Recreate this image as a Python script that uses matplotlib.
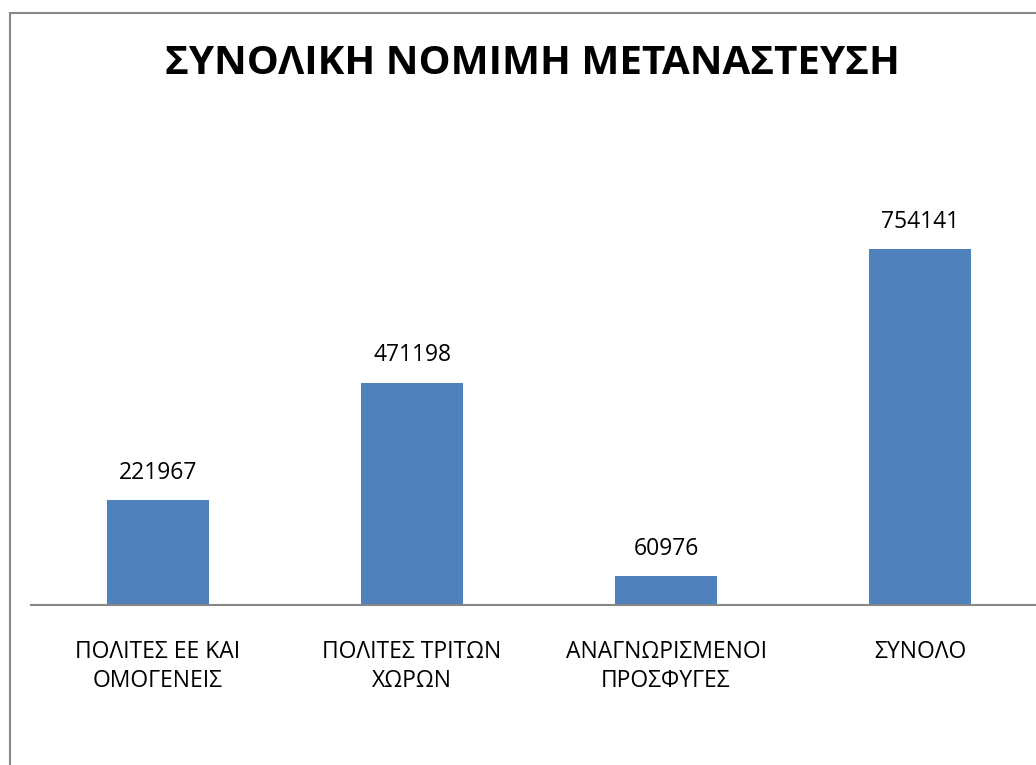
import matplotlib
matplotlib.use("Agg")
import matplotlib.pyplot as plt
from matplotlib.patches import Rectangle

categories = ["ΠΟΛΙΤΕΣ ΕΕ ΚΑΙ\nΟΜΟΓΕΝΕΙΣ", "ΠΟΛΙΤΕΣ ΤΡΙΤΩΝ\nΧΩΡΩΝ", "ΑΝΑΓΝΩΡΙΣΜΕΝΟΙ\nΠΡΟΣΦΥΓΕΣ", "ΣΥΝΟΛΟ"]
values = [221967, 471198, 60976, 754141]
title = "ΣΥΝΟΛΙΚΗ ΝΟΜΙΜΗ ΜΕΤΑΝΑΣΤΕΥΣΗ"

plt.rcParams['font.family'] = ['Open Sans', 'DejaVu Sans']

W, H = 1036, 765
fig = plt.figure(figsize=(W / 100, H / 100), dpi=100)
fig.patch.set_facecolor('white')

left = 31 / W
bottom = (H - 605) / H
top = (H - 227.4) / H
ax = fig.add_axes([left, bottom, 1 - left, top - bottom])
x = list(range(len(categories)))
bars = ax.bar(x, values, width=0.4, color='#4F81BD', zorder=2)
ax.set_xlim(-0.5, 3.5 - 11 / 254)
ax.set_ylim(0, 800000)

for s in ['top', 'right', 'left']:
    ax.spines[s].set_visible(False)
ax.spines['bottom'].set_color('#868686')
ax.spines['bottom'].set_linewidth(1.5)
ax.set_yticks([])
ax.set_xticks(x)
ax.set_xticklabels(categories, fontsize=16.5, linespacing=1.27)
ax.tick_params(axis='x', length=0, pad=25)

for b, v in zip(bars, values):
    ax.annotate(str(v), (b.get_x() + b.get_width() / 2, v), xytext=(0, 11),
                textcoords='offset points', ha='center', va='bottom', fontsize=16.5)

fig.text(532 / W, 1 - 64 / H, title, ha='center', va='center',
         fontsize=29, fontweight='bold')

border = Rectangle((10 / W, -0.1), 1.2, 1 - 13 / H + 0.1, transform=fig.transFigure,
                   fill=False, edgecolor='#888888', linewidth=1.5)
fig.patches.append(border)

fig.savefig('out.png', dpi=100, facecolor='white')
